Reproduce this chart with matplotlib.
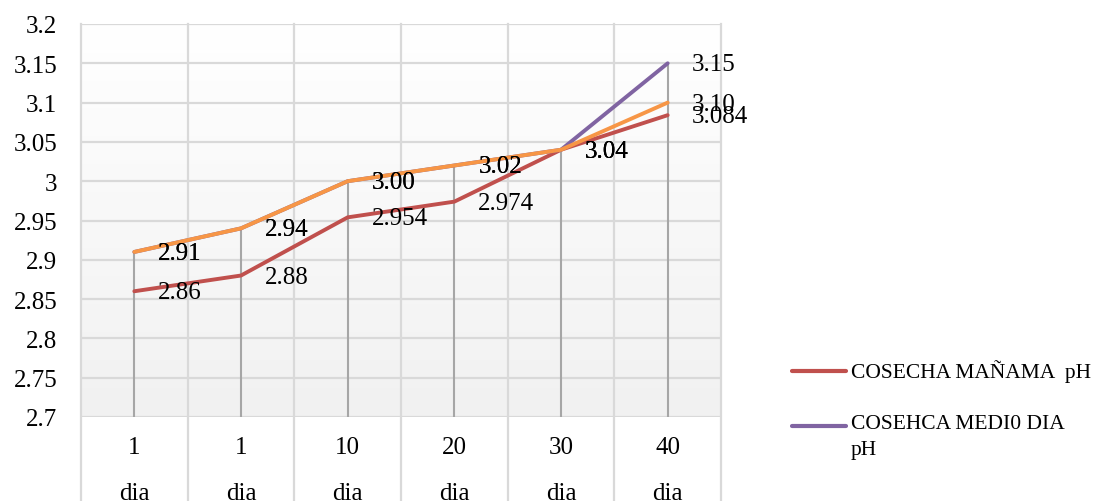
import numpy as np
import matplotlib.pyplot as plt
from matplotlib.lines import Line2D
import matplotlib.transforms as mtransforms

plt.rcParams['font.family'] = ['Liberation Serif', 'DejaVu Serif']

categories = ["1\ndia", "1\ndia", "10\ndia", "20\ndia", "30\ndia", "40\ndia"]
manana_ph = [2.86, 2.88, 2.954, 2.974, 3.04, 3.084]
medio_dia_ph = [2.91, 2.94, 3.00, 3.02, 3.04, 3.15]
tarde_ph = [2.91, 2.94, 3.00, 3.02, 3.04, 3.10]

manana_labels = ["2.86", "2.88", "2.954", "2.974", "3.04", "3.084"]
medio_dia_labels = ["2.91", "2.94", "3.00", "3.02", "3.04", "3.15"]
tarde_labels = ["2.91", "2.94", "3.00", "3.02", "3.04", "3.10"]

legend_names = ["COSECHA MAÑAMA  pH", "COSEHCA MEDI0 DIA\npH"]
colors = ["#c0504d", "#8064a2", "#f79646"]
y_ticks = [2.7, 2.75, 2.8, 2.85, 2.9, 2.95, 3.0, 3.05, 3.1, 3.15, 3.2]
y_tick_labels = ["2.7", "2.75", "2.8", "2.85", "2.9", "2.95", "3", "3.05", "3.1", "3.15", "3.2"]

W, H = 1096, 502
fig = plt.figure(figsize=(W / 100, H / 100), dpi=100)
ax = fig.add_axes([81 / W, 1 - 418 / H, 640 / W, 393 / H])

x = np.arange(len(categories))
ax.set_xlim(-0.5, len(categories) - 0.5)
ax.set_ylim(2.7, 3.2)

# plot-area fill: white at the top fading to light gray at the bottom
grad = np.linspace(1.0, 0.945, 256).reshape(-1, 1)
grad_rgb = np.dstack([grad, grad, grad])
ax.imshow(grad_rgb, extent=[-0.5, len(categories) - 0.5, 2.7, 3.2],
          aspect='auto', zorder=0, interpolation='bilinear')

grid_color = "#d9d9d9"
for yv in y_ticks:
    ax.axhline(yv, color=grid_color, lw=1.6, zorder=1)

# vertical category separators, running down through the label band
trans = mtransforms.blended_transform_factory(ax.transData, ax.transAxes)
for xb in np.arange(-0.5, len(categories), 1.0):
    ax.add_line(Line2D([xb, xb], [-0.3, 1.0], transform=trans, color=grid_color,
                       lw=1.6, clip_on=False, zorder=1))

# drop lines from the highest point down to the axis
tops = np.max(np.vstack([manana_ph, medio_dia_ph, tarde_ph]), axis=0)
ax.vlines(x, 2.7, tops, color="#a6a6a6", lw=1.5, zorder=2)

for vals, col in zip([manana_ph, medio_dia_ph, tarde_ph], colors):
    ax.plot(x, vals, color=col, lw=2.8, solid_capstyle='round', zorder=3)

label_sets = [(manana_ph, manana_labels), (medio_dia_ph, medio_dia_labels), (tarde_ph, tarde_labels)]
for vals, labs in label_sets:
    for xi, v, s in zip(x, vals, labs):
        ax.annotate(s, (xi, v), xytext=(24, -1), textcoords='offset pixels',
                    ha='left', va='center', fontsize=18, color='black', zorder=5)

ax.set_yticks(y_ticks)
ax.set_yticklabels(y_tick_labels, fontsize=18)
ax.set_xticks(x)
ax.set_xticklabels(categories, fontsize=18, linespacing=2.4, va='top')
ax.tick_params(axis='both', length=0)
ax.tick_params(axis='y', pad=17)
ax.tick_params(axis='x', pad=14)
for sp in ax.spines.values():
    sp.set_visible(False)

# legend entries drawn in figure pixels
legend_rows = [372, 427]
for name, col, yr in zip(legend_names, colors, legend_rows):
    fy = 1 - yr / H
    fig.add_artist(Line2D([792 / W, 846 / W], [fy, fy], color=col, lw=3,
                          solid_capstyle='round'))
    fig.text(851 / W, 1 - (yr - 12) / H, name, fontsize=15.5, ha='left', va='top',
             linespacing=1.5)

fig.savefig("out.png", dpi=100)
